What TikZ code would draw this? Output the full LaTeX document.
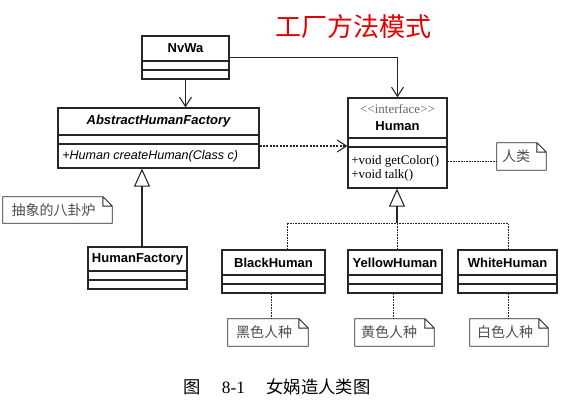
\documentclass[tikz,border=0pt]{standalone}
\usepackage{fontspec}
\setmainfont{Liberation Serif}
\setsansfont{Liberation Sans}
\newfontfamily\cjk{Noto Sans CJK SC}
\usetikzlibrary{arrows.meta,fit,calc}
\tikzset{
  umlbox/.style={draw=black!85, line width=0.9pt, inner sep=0pt},
  umlline/.style={draw=black!85, line width=0.9pt},
  clsname/.style={font=\sffamily\bfseries\fontsize{9.75}{11}\selectfont, inner sep=0pt},
  member/.style={font=\fontsize{9.75}{11}\selectfont, inner sep=0pt, anchor=west},
  notetext/.style={font=\cjk\fontsize{10.5}{12}\selectfont, text=black!70, inner sep=0pt},
  assoc/.style={draw=black!85, line width=0.8pt, -{Straight Barb[length=7pt,width=9pt]}},
  depend/.style={assoc, dash pattern=on 1.5pt off 1pt},
  dotline/.style={draw=black!85, line width=0.7pt, dash pattern=on 1.2pt off 0.8pt},
  inherit/.style={draw=black!85, line width=0.8pt, -{Triangle[open, length=13.5pt, width=12pt]}}
}
\begin{document}
\begin{tikzpicture}[x=0.75pt, y=-0.75pt]
  \useasboundingbox (0,0) rectangle (581,408);
  \node[font=\cjk\fontsize{19.5}{22}\selectfont, text=red!90!black] (title) at (353.5,27) {工厂方法模式};
  % classes
  \node[umlbox, fit={(142,36) (229,79)}] (nvwa) {};
  \node[umlbox, fit={(58,108) (259,168)}] (ahf) {};
  \node[umlbox, fit={(88,247) (187,289)}] (hf) {};
  \node[umlbox, fit={(348,98) (447,188)}] (human) {};
  \node[umlbox, fit={(222,250) (325,293)}] (bh) {};
  \node[umlbox, fit={(348,250) (442,293)}] (yh) {};
  \node[umlbox, fit={(458,250) (557,293)}] (wh) {};
  \foreach \c/\a/\b in {nvwa/61/70, ahf/135/144, hf/271/280, human/138/147, bh/275/284, yh/275/284, wh/275/284}
    \draw[umlline] (\c.west |- 0,\a) -- (\c.east |- 0,\a) (\c.west |- 0,\b) -- (\c.east |- 0,\b);
  \node[clsname] (nvwa-t) at (185.5,48.5) {NvWa};
  \node[clsname, font=\sffamily\bfseries\itshape\fontsize{9.75}{11}\selectfont] (ahf-t) at (158.5,121.5) {AbstractHumanFactory};
  \node[member, font=\sffamily\itshape\fontsize{9.4}{11}\selectfont] (ahf-m) at (62,156) {+Human createHuman(Class c)};
  \node[clsname] (hf-t) at (137.5,259) {HumanFactory};
  \node[member, anchor=center, text=black!60] (human-s) at (397.5,109) {{<}{<}interface{>}{>}};
  \node[clsname] (human-t) at (397.5,126) {Human};
  \node[member] (human-m1) at (351,161) {+void getColor()};
  \node[member] (human-m2) at (351,175) {+void talk()};
  \node[clsname] (bh-t) at (273.5,262.5) {BlackHuman};
  \node[clsname] (yh-t) at (395,262.5) {YellowHuman};
  \node[clsname] (wh-t) at (507.5,262.5) {WhiteHuman};
  % notes
  \node[inner sep=0pt, fit={(3,197) (112,223)}] (n1) {};
  \node[inner sep=0pt, fit={(497,143) (546,170)}] (n2) {};
  \node[inner sep=0pt, fit={(228,319) (308,346)}] (n3) {};
  \node[inner sep=0pt, fit={(355,319) (434,346)}] (n4) {};
  \node[inner sep=0pt, fit={(470,319) (548,346)}] (n5) {};
  \foreach \n in {n1,n2,n3,n4,n5}
    \draw[black!85, line width=0.7pt] (\n.south west) -- (\n.north west) -- ([xshift=-7pt]\n.north east)
      -- ([yshift=-7pt]\n.north east) -- (\n.south east) -- cycle
      ([xshift=-7pt]\n.north east) |- ([yshift=-7pt]\n.north east);
  \node[notetext] (n1-t) at ([xshift=-3pt]n1.center) {抽象的八卦炉};
  \node[notetext] (n2-t) at ([xshift=-4pt]n2.center) {人类};
  \node[notetext] (n3-t) at ([xshift=-3pt]n3.center) {黑色人种};
  \node[notetext] (n4-t) at ([xshift=-4pt]n4.center) {黄色人种};
  \node[notetext] (n5-t) at ([xshift=-3pt]n5.center) {白色人种};
  % connectors
  \draw[assoc] (nvwa.south) -- (nvwa.south |- ahf.north);
  \draw[assoc] (nvwa.east) -| (human.north);
  \coordinate (dep) at (0,146);
  \draw[depend] (ahf.east |- dep) -- (human.west |- dep);
  \coordinate (gen) at (142,0);
  \draw[inherit] (hf.north -| gen) -- (ahf.south -| gen);
  \coordinate (hub) at (397,223);
  \coordinate (hl) at (287,223);
  \coordinate (hr) at (508,223);
  \draw[inherit] (hub) -- (hub |- human.south);
  \draw[dotline] (bh.north -| hl) -- (hl) -- (hr) -- (wh.north -| hr);
  \draw[dotline] (hub |- yh.north) -- (hub);
  \draw[dotline] ($(ahf.south west)+(3,0)$) -- ($(ahf.south west)+(3,0)$ |- n1.north);
  \draw[dotline] (human.east |- 0,161) -- (n2.west |- 0,161);
  \draw[dotline] (bh.south -| 271,0) -- (n3.north -| 271,0);
  \draw[dotline] (yh.south -| 393,0) -- (n4.north -| 393,0);
  \draw[dotline] (wh.south -| 508,0) -- (n5.north -| 508,0);
  \node[font=\fontsize{13}{15}\selectfont, anchor=west, inner sep=0pt] (caption) at (183,387)
    {{\cjk 图}\hspace{16pt}8-1\hspace{16pt}{\cjk 女娲造人类图}};
\end{tikzpicture}
\end{document}
